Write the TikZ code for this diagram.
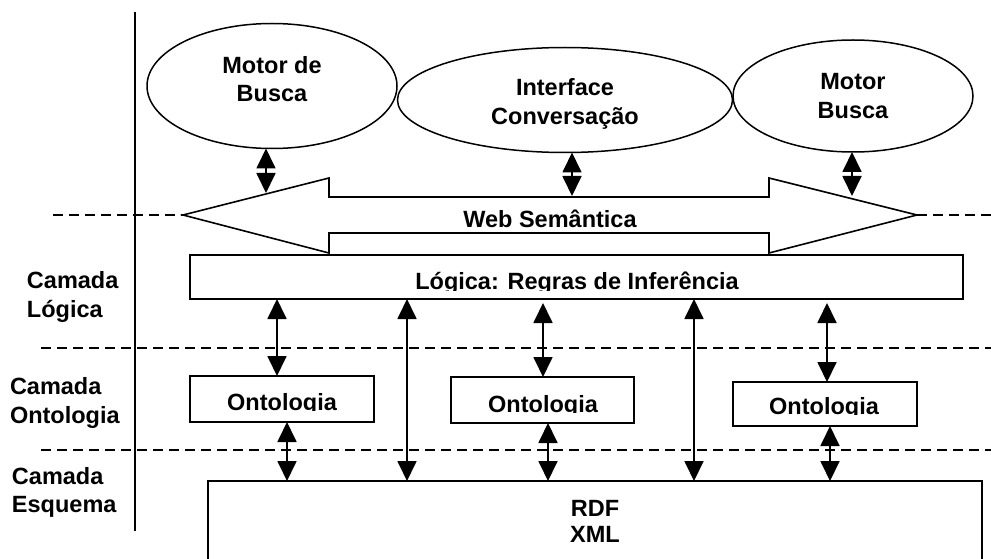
\documentclass[tikz,border=0pt]{standalone}
\usepackage{fontspec}
\setmainfont{Liberation Sans}
\usetikzlibrary{shapes.geometric,arrows.meta}
\begin{document}
\begin{tikzpicture}[x=1pt,y=-1pt,
  every node/.style={font=\fontsize{23.5}{28.5}\selectfont\bfseries, inner sep=0pt, outer sep=0pt},
  ell/.style={draw, ellipse, line width=1.5pt},
  box/.style={draw, rectangle, line width=1.6pt},
  lbl/.style={align=left, anchor=west},
  dar/.style={line width=1.8pt, {Triangle[length=20pt,width=19pt]}-{Triangle[length=20pt,width=19pt]}},
  sep/.style={line width=1.5pt, dash pattern=on 10pt off 6pt}]
\useasboundingbox (0,0) rectangle (991,559);

% vertical separator
\coordinate (vtop) at (135,12);
\coordinate (vbot) at (135,531);
\draw[line width=1.6pt] (vtop) -- (vbot);

% ellipses
\node[ell, minimum width=250pt, minimum height=125pt] (e1) at (272,86) {};
\node[align=center] (t1) at (272,79) {Motor de\\Busca};
\node[ell, minimum width=335pt, minimum height=105pt] (e2) at (565,100) {};
\node[align=center] (t2) at (565,104) {Interface\\Conversação};
\node[ell, minimum width=240pt, minimum height=112pt] (e3) at (853,96) {};
\node[align=center] (t3) at (853,96) {Motor\\Busca};

% Web Semantica double arrow
\coordinate (wl) at (183,215);
\coordinate (wr) at (917,215);
\draw[line width=1.6pt] (wl) -- (329,178) -- (329,197) -- (769,197) -- (769,178) -- (wr)
  -- (769,253) -- (769,233) -- (329,233) -- (329,253) -- cycle;
\node[anchor=base] (web) at (550,227) {Web Semântica};
\coordinate (w1) at (266,193);
\coordinate (w2) at (572,196);
\coordinate (w3) at (852,196);
\draw[dar] (e1.south -| w1) -- (w1);
\draw[dar] (e2.south -| w2) -- (w2);
\draw[dar] (e3.south -| w3) -- (w3);

% dashed layer separators
\coordinate (d1a) at (53,215);
\coordinate (d1b) at (991,215);
\draw[sep] (d1a) -- (wl);
\draw[sep] (wr) -- (d1b);
\coordinate (d2a) at (41,348);
\coordinate (d2b) at (991,348);
\draw[sep] (d2a) -- (d2b);
\coordinate (d3a) at (41,450);
\coordinate (d3b) at (991,450);
\draw[sep] (d3a) -- (d3b);

% Logic box
\node[box, minimum width=773pt, minimum height=44pt] (logic) at (576.5,277) {};
\begin{scope}
  \clip (190,255) rectangle (963,290);
  \node[anchor=base] (logict) at (577,289) {Lógica: Regras de Inferência};
\end{scope}

% Ontology boxes
\node[box, minimum width=184pt, minimum height=46pt] (o1) at (282,399) {};
\node[box, minimum width=183pt, minimum height=46pt] (o2) at (542.5,400) {};
\node[box, minimum width=184pt, minimum height=44pt] (o3) at (825,404) {};
\begin{scope}
  \clip (190,376) rectangle (374,410.5);
  \node[anchor=base] (o1t) at (282,410) {Ontologia};
\end{scope}
\begin{scope}
  \clip (451,377) rectangle (634,412.5);
  \node[anchor=base] (o2t) at (543,412) {Ontologia};
\end{scope}
\begin{scope}
  \clip (733,382) rectangle (917,414.5);
  \node[anchor=base] (o3t) at (824,414) {Ontologia};
\end{scope}

% RDF box
\node[box, minimum width=774pt, minimum height=120pt, anchor=north west] (rdf) at (208,481) {};
\node[align=center, font=\fontsize{23.5}{26}\selectfont\bfseries] (rdft) at (595,521) {RDF\\XML};

% left labels
\node[lbl] (l1) at (27,297) {Camada\\Lógica};
\node[lbl] (l2) at (10,403) {Camada\\Ontologia};
\node[lbl] (l3) at (12,492.5) {Camada\\Esquema};

% vertical arrows
\coordinate (x1) at (277,0);
\coordinate (x2) at (407,0);
\coordinate (x3) at (543,0);
\coordinate (x4) at (694,0);
\coordinate (x5) at (827,0);
\coordinate (y1) at (287,0);
\coordinate (y2) at (548,0);
\coordinate (y3) at (830,0);
\draw[dar] (logic.south -| x1) -- (o1.north -| x1);
\draw[dar] (logic.south -| x2) -- (rdf.north -| x2);
\draw[dar, shorten <=4pt] (logic.south -| x3) -- (o2.north -| x3);
\draw[dar] (logic.south -| x4) -- (rdf.north -| x4);
\draw[dar, shorten <=4pt] (logic.south -| x5) -- (o3.north -| x5);
\draw[dar] (o1.south -| y1) -- (rdf.north -| y1);
\draw[dar] (o2.south -| y2) -- (rdf.north -| y2);
\draw[dar] (o3.south -| y3) -- (rdf.north -| y3);
\end{tikzpicture}
\end{document}
